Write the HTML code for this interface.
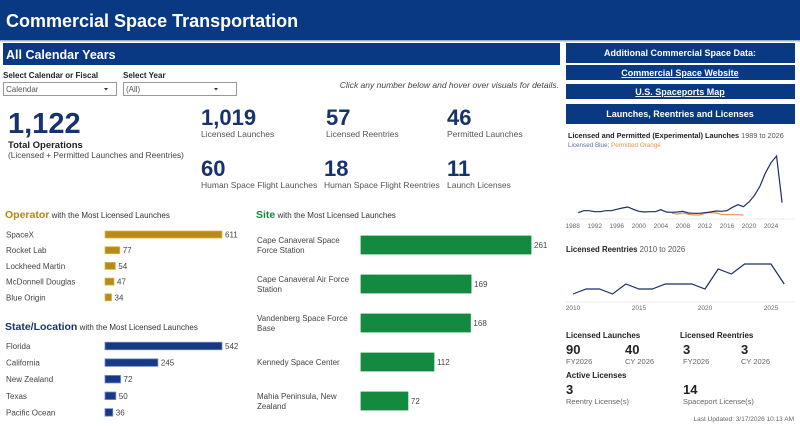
<!DOCTYPE html>
<html><head><meta charset="utf-8">
<style>
html,body{margin:0;padding:0;background:#fff;width:800px;height:428px;overflow:hidden}
svg{display:block;font-family:"Liberation Sans",Arial,sans-serif}
</style></head><body>
<svg id="s" width="800" height="428" viewBox="0 0 800 428">
<rect x="0" y="0" width="800" height="40" fill="#0a3983"/>
<rect x="0" y="40" width="800" height="1.5" fill="#9bb0d6"/>
<text x="6" y="27" fill="#fff" font-size="18" font-weight="bold">Commercial Space Transportation</text>

<rect x="3" y="43" width="557" height="22" fill="#0a3983"/>
<text x="6" y="59" fill="#fff" font-size="12.5" font-weight="bold">All Calendar Years</text>

<g font-size="8" fill="#222">
<text x="3" y="78" font-weight="bold">Select Calendar or Fiscal</text>
<text x="123" y="78" font-weight="bold">Select Year</text>
</g>
<g><rect x="3.5" y="82.5" width="113" height="13" fill="#fff" stroke="#999"/><text x="6" y="92" font-size="8" fill="#555">Calendar</text><path d="M104 88h4l-2 2.5z" fill="#333"/></g>
<g><rect x="123.5" y="82.5" width="113" height="13" fill="#fff" stroke="#999"/><text x="126" y="92" font-size="8" fill="#555">(All)</text><path d="M214 88h4l-2 2.5z" fill="#333"/></g>
<text x="559" y="88" text-anchor="end" font-size="8.5" font-style="italic" fill="#444">Click any number below and hover over visuals for details.</text>

<text x="8" y="133" font-size="29" font-weight="bold" fill="#17336e">1,122</text>
<text x="8" y="148" font-size="9.5" font-weight="bold" fill="#222">Total Operations</text>
<text x="8" y="158" font-size="8.3" fill="#444">(Licensed + Permitted Launches and Reentries)</text>

<g fill="#17336e" font-size="22" font-weight="bold">
<text x="201" y="125">1,019</text>
<text x="326" y="125">57</text>
<text x="447" y="125">46</text>
<text x="201" y="176">60</text>
<text x="324" y="176">18</text>
<text x="447" y="176">11</text>
</g>
<g fill="#555" font-size="8.5">
<text x="201" y="137">Licensed Launches</text>
<text x="326" y="137">Licensed Reentries</text>
<text x="447" y="137">Permitted Launches</text>
<text x="201" y="188">Human Space Flight Launches</text>
<text x="324" y="188">Human Space Flight Reentries</text>
<text x="447" y="188">Launch Licenses</text>
</g>

<g font-size="9" font-weight="bold" fill="#fff" text-anchor="middle">
<rect x="566" y="43" width="229" height="20" fill="#0a3983"/>
<text x="680" y="56">Additional Commercial Space Data:</text>
<g><rect x="566" y="65" width="229" height="15" fill="#0a3983"/><text x="680" y="76" text-decoration="underline">Commercial Space Website</text></g>
<g><rect x="566" y="84" width="229" height="15" fill="#0a3983"/><text x="680" y="95" text-decoration="underline">U.S. Spaceports Map</text></g>
<g><rect x="566" y="104" width="229" height="20" fill="#0a3983"/><text x="680" y="117">Launches, Reentries and Licenses</text></g>
</g>

<text x="568" y="138" font-size="7.3" fill="#222"><tspan font-weight="bold">Licensed and Permitted (Experimental) Launches</tspan><tspan fill="#555"> 1989 to 2026</tspan></text>
<text x="568" y="147" font-size="6.3"><tspan fill="#5a6fa0">Licensed Blue;</tspan><tspan fill="#f0904a"> Permitted Orange</tspan></text>
<g id="lc1"></g>

<text x="566" y="252" font-size="7.8" fill="#222"><tspan font-weight="bold">Licensed Reentries</tspan><tspan fill="#555"> 2010 to 2026</tspan></text>
<g id="lc2"></g>

<g fill="#222">
<text x="566" y="338" font-size="8" font-weight="bold">Licensed Launches</text>
<text x="680" y="338" font-size="8" font-weight="bold">Licensed Reentries</text>
<text x="566" y="354" font-size="13" font-weight="bold">90</text>
<text x="625" y="354" font-size="13" font-weight="bold">40</text>
<text x="683" y="354" font-size="13" font-weight="bold">3</text>
<text x="741" y="354" font-size="13" font-weight="bold">3</text>
<text x="566" y="378" font-size="8" font-weight="bold">Active Licenses</text>
<text x="566" y="394" font-size="13" font-weight="bold">3</text>
<text x="683" y="394" font-size="13" font-weight="bold">14</text>
</g>
<g fill="#666" font-size="7.5">
<text x="566" y="364">FY2026</text><text x="625" y="364">CY 2026</text>
<text x="683" y="364">FY2026</text><text x="741" y="364">CY 2026</text>
<text x="566" y="404">Reentry License(s)</text><text x="683" y="404">Spaceport License(s)</text>
</g>
<text x="794" y="421" text-anchor="end" font-size="6.5" fill="#666">Last Updated: 3/17/2026 10:13 AM</text>

<text x="5" y="218" font-size="8" fill="#333"><tspan font-size="10.5" font-weight="bold" fill="#b8860b">Operator</tspan> with the Most Licensed Launches</text>
<text x="5" y="330" font-size="8" fill="#333"><tspan font-size="10.5" font-weight="bold" fill="#17336e">State/Location</tspan> with the Most Licensed Launches</text>
<text x="256" y="218" font-size="8" fill="#333"><tspan font-size="10.5" font-weight="bold" fill="#128a3e">Site</tspan> with the Most Licensed Launches</text>
<g id="bars" font-size="8" fill="#444"></g>
</svg>
<script>
const NS="http://www.w3.org/2000/svg";
const opNames=["SpaceX","Rocket Lab","Lockheed Martin","McDonnell Douglas","Blue Origin"];
const opVals=[611,77,54,47,34];
const stNames=["Florida","California","New Zealand","Texas","Pacific Ocean"];
const stVals=[542,245,72,50,36];
const siteNames=[["Cape Canaveral Space","Force Station"],["Cape Canaveral Air Force","Station"],["Vandenberg Space Force","Base"],["Kennedy Space Center"],["Mahia Peninsula, New","Zealand"]];
const siteVals=[261,169,168,112,72];
const launchYears=[1989,1990,1991,1992,1993,1994,1995,1996,1997,1998,1999,2000,2001,2002,2003,2004,2005,2006,2007,2008,2009,2010,2011,2012,2013,2014,2015,2016,2017,2018,2019,2020,2021,2022,2023,2024,2025,2026];
const licensedLaunches=[10,16,16,13,13,16,16,20,24,27,20,14,12,13,13,19,12,11,12,14,9,8,8,10,12,15,14,16,26,34,28,42,62,90,130,160,180,40];
const permitYears=[2006,2007,2008,2009,2010,2011,2012,2013,2014,2015,2016,2017,2018,2019];
const permittedLaunches=[8,6,9,5,3,3,8,10,9,5,4,4,4,3];
const launchTicks=[1988,1992,1996,2000,2004,2008,2012,2016,2020,2024];
const reentryYears=[2010,2011,2012,2013,2014,2015,2016,2017,2018,2019,2020,2021,2022,2023,2024,2025,2026];
const reentries=[1,2,2,1,3,2,2,3,3,3,2,6,5,7,7,7,3];
const reentryTicks=[2010,2015,2020,2025];

function mk(tag,attrs,parent,txt){const e=document.createElementNS(NS,tag);for(const k in attrs)e.setAttribute(k,attrs[k]);if(txt!==undefined)e.textContent=txt;parent.appendChild(e);return e;}
const bars=document.getElementById('bars');
function barChart(names,vals,x0,maxW,y0,step,h,color,stroke,labelX,lineStep,kind){
  const mx=Math.max(...vals);
  vals.forEach((v,i)=>{
    const cy=y0+i*step, w=v/mx*maxW;
    const lines=Array.isArray(names[i])?names[i]:[names[i]];
    const t=mk('text',{x:labelX,y:cy+3-(lines.length-1)*lineStep/2},bars);
    
    
    lines.forEach((l,j)=>mk('tspan',{x:labelX,dy:j?lineStep:0},t,l));
    const r=mk('rect',{x:x0,y:cy-h/2,width:w,height:h,fill:color,stroke:stroke,'stroke-width':0.8},bars);
    
    
    const vt=mk('text',{x:x0+w+3,y:cy+3},bars,String(v));
    
    
  });
}
barChart(opNames,opVals,105,117,234.5,15.7,7,"#b88b14","#d9b35a",6,0,'operator');
barChart(stNames,stVals,105,117,346,16.6,7.5,"#163a85","#6f87c0",6,0,'state');
barChart(siteNames,siteVals,361,170,245,39,18,"#138a3f","#138a3f",257,10,'site');

function xs1(y){return 572.7+(y-1988)*5.51}
function ys1(v){return 216-v/3}
const g1=document.getElementById('lc1');
launchTicks.forEach(t=>{const e=mk('text',{x:xs1(t),y:228,'text-anchor':'middle','font-size':6.5,fill:'#666'},g1,String(t));});
mk('line',{x1:566,x2:795,y1:219,y2:219,stroke:'#eee'},g1);
let p=mk('polyline',{points:permitYears.map((y,i)=>xs1(y)+','+ys1(permittedLaunches[i])).join(' '),fill:'none',stroke:'#f0904a','stroke-width':1.2},g1);

p=mk('polyline',{points:launchYears.map((y,i)=>xs1(y)+','+ys1(licensedLaunches[i])).join(' '),fill:'none',stroke:'#1b2f66','stroke-width':1.2},g1);


function xs2(y){return 573+(y-2010)*13.2}
function ys2(v){return 299-v*5}
const g2=document.getElementById('lc2');
reentryTicks.forEach(t=>{const e=mk('text',{x:xs2(t),y:310,'text-anchor':'middle','font-size':6.5,fill:'#666'},g2,String(t));});
mk('line',{x1:566,x2:795,y1:302,y2:302,stroke:'#eee'},g2);
p=mk('polyline',{points:reentryYears.map((y,i)=>xs2(y)+','+ys2(reentries[i])).join(' '),fill:'none',stroke:'#1b2f66','stroke-width':1.2},g2);

</script>
</body></html>
